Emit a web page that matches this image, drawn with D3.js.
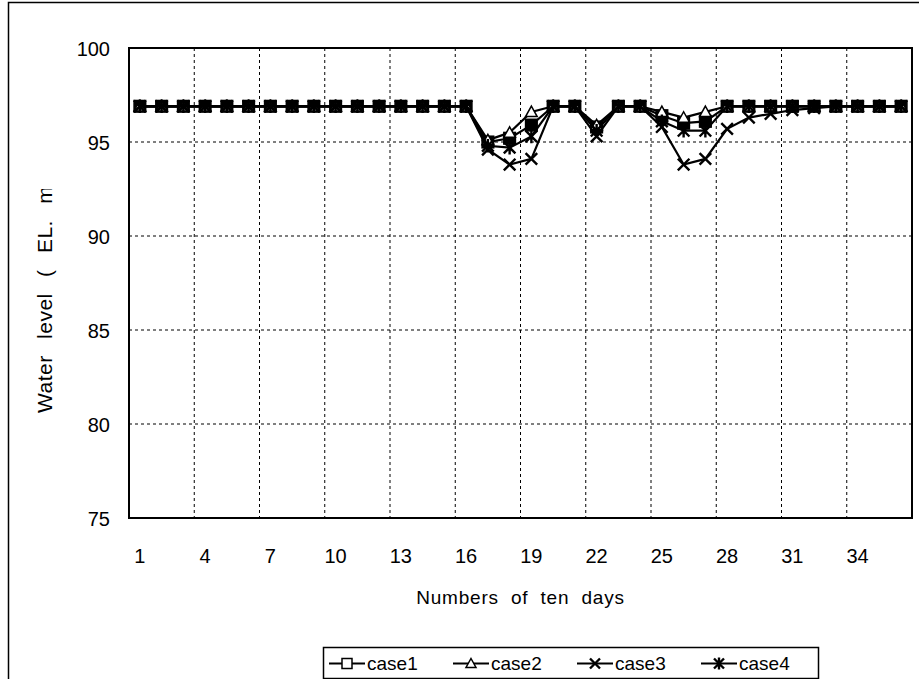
<!DOCTYPE html>
<html><head><meta charset="utf-8">
<script src="https://cdn.jsdelivr.net/npm/d3@7"></script>
<style>body{margin:0;background:#fff}svg{display:block}text{font-family:"Liberation Sans",Arial,sans-serif;fill:#000}</style>
</head><body>
<svg id="c" width="919" height="679"></svg>
<script>
const days = d3.range(1, 37);
const tickLabels = [1,4,7,10,13,16,19,22,25,28,31,34];
const yTicks = [75,80,85,90,95,100];
const case1 = [96.9,96.9,96.9,96.9,96.9,96.9,96.9,96.9,96.9,96.9,96.9,96.9,96.9,96.9,96.9,96.9,95.0,95.2,95.9,96.9,96.9,95.8,96.9,96.9,96.4,96.0,96.1,96.9,96.9,96.9,96.9,96.9,96.9,96.9,96.9,96.9];
const case2 = [96.9,96.9,96.9,96.9,96.9,96.9,96.9,96.9,96.9,96.9,96.9,96.9,96.9,96.9,96.9,96.9,95.1,95.5,96.6,96.9,96.9,95.9,96.9,96.9,96.6,96.3,96.6,96.9,96.9,96.9,96.9,96.9,96.9,96.9,96.9,96.9];
const case3 = [96.9,96.9,96.9,96.9,96.9,96.9,96.9,96.9,96.9,96.9,96.9,96.9,96.9,96.9,96.9,96.9,94.6,93.8,94.1,96.9,96.9,95.3,96.9,96.9,95.8,93.8,94.1,95.7,96.3,96.5,96.7,96.8,96.9,96.9,96.9,96.9];
const case4 = [96.9,96.9,96.9,96.9,96.9,96.9,96.9,96.9,96.9,96.9,96.9,96.9,96.9,96.9,96.9,96.9,94.8,94.7,95.3,96.9,96.9,95.6,96.9,96.9,96.1,95.6,95.6,96.9,96.9,96.9,96.9,96.9,96.9,96.9,96.9,96.9];
const seriesNames = ["case1","case2","case3","case4"];
const seriesVals = [case1, case2, case3, case4];
const markers = ["square","triangle","x","asterisk"];

const svg = d3.select("#c");
const L = 129, R = 912, T = 48, B = 518;
const x = d3.scaleBand().domain(days).range([L, R]);
const y = d3.scaleLinear().domain([75, 100]).range([B, T]);
const cx = d => x(d) + x.bandwidth() / 2;

// outer frame
svg.append("rect").attr("x", 8.5).attr("y", 2.5).attr("width", 1000).attr("height", 1000)
  .attr("fill", "none").attr("stroke", "#000").attr("stroke-width", 1.5);

// gridlines
svg.append("g").selectAll("line").data(yTicks.filter(v => v > 75 && v < 100)).join("line")
  .attr("x1", L).attr("x2", R).attr("y1", d => y(d)).attr("y2", d => y(d))
  .attr("stroke", "#000").attr("stroke-width", 1).attr("stroke-dasharray", "3,3");
svg.append("g").selectAll("line").data(tickLabels.filter(v => v > 1)).join("line")
  .attr("x1", d => x(d)).attr("x2", d => x(d)).attr("y1", T).attr("y2", B)
  .attr("stroke", "#000").attr("stroke-width", 1).attr("stroke-dasharray", "3,3");

// plot frame
svg.append("rect").attr("x", L).attr("y", T).attr("width", R - L).attr("height", B - T)
  .attr("fill", "none").attr("stroke", "#000").attr("stroke-width", 2);

// axes
const ya = svg.append("g").attr("transform", `translate(${L},0)`)
  .call(d3.axisLeft(y).tickValues(yTicks).tickSize(0).tickPadding(19));
ya.select(".domain").remove();
ya.selectAll("text").style("font-size", "20px").attr("dy", "0.36em")
  .style("font-family", "Liberation Sans, Arial, sans-serif");
const xa = svg.append("g").attr("transform", `translate(0,${B})`)
  .call(d3.axisBottom(x).tickValues(tickLabels).tickSize(0).tickPadding(31));
xa.select(".domain").remove();
xa.selectAll("text").style("font-size", "20px").attr("dy", "0.71em")
  .style("font-family", "Liberation Sans, Arial, sans-serif");
xa.selectAll("text").attr("y", 31);

// axis titles
svg.append("text").attr("x", (L + R) / 2).attr("y", 604).attr("text-anchor", "middle")
  .style("font-size", "19px").style("letter-spacing", "0.8px").style("word-spacing", "6px")
  .text("Numbers of ten days");
svg.append("defs").append("clipPath").attr("id", "tclip").append("rect")
  .attr("x", 0).attr("y", 189).attr("width", 80).attr("height", 300);
svg.append("g").attr("clip-path", "url(#tclip)")
  .append("text")
  .attr("transform", "translate(52,413) rotate(-90)").attr("text-anchor", "start")
  .style("font-size", "21px").style("letter-spacing", "0.5px").style("word-spacing", "10px")
  .text("Water level ( EL. m");

// marker drawing
function drawMarker(g, type, px, py, legend) {
  const s = legend ? 5 : 5.8;
  if (type === "square") {
    g.append("rect").attr("x", px - s).attr("y", py - s).attr("width", 2 * s).attr("height", 2 * s)
      .attr("fill", legend ? "#fff" : "#000").attr("stroke", "#000").attr("stroke-width", 1.5);
  } else if (type === "triangle") {
    g.append("path").attr("d", `M${px},${py - s}L${px + s},${py + s * 0.8}L${px - s},${py + s * 0.8}Z`)
      .attr("fill", "#fff").attr("stroke", "#000").attr("stroke-width", 1.5);
  } else if (type === "x") {
    g.append("path").attr("d", `M${px - s},${py - s}L${px + s},${py + s}M${px - s},${py + s}L${px + s},${py - s}`)
      .attr("stroke", "#000").attr("stroke-width", 2.4);
  } else {
    g.append("path").attr("d", `M${px - s},${py - s}L${px + s},${py + s}M${px - s},${py + s}L${px + s},${py - s}M${px},${py - s - 1}L${px},${py + s + 1}`)
      .attr("stroke", "#000").attr("stroke-width", 2.4);
  }
}

const line = d3.line().x((v, i) => cx(days[i])).y(v => y(v));
seriesVals.forEach((vals, k) => {
  const g = svg.append("g");
  g.append("path").attr("d", line(vals)).attr("fill", "none").attr("stroke", "#000").attr("stroke-width", 2.2);
  vals.forEach((v, i) => drawMarker(g, markers[k], cx(days[i]), y(v), false));
});

// legend
const lg = svg.append("g");
lg.append("rect").attr("x", 323.5).attr("y", 647.5).attr("width", 495).attr("height", 31)
  .attr("fill", "#fff").attr("stroke", "#000").attr("stroke-width", 1.5);
seriesNames.forEach((n, k) => {
  const x0 = 329 + k * 124, ly = 663.5;
  lg.append("line").attr("x1", x0).attr("x2", x0 + 36).attr("y1", ly).attr("y2", ly)
    .attr("stroke", "#000").attr("stroke-width", 2);
  drawMarker(lg, markers[k], x0 + 18, ly, true);
  lg.append("text").attr("x", x0 + 38).attr("y", ly + 6.5).style("font-size", "19px").text(n);
});
</script>
</body></html>
